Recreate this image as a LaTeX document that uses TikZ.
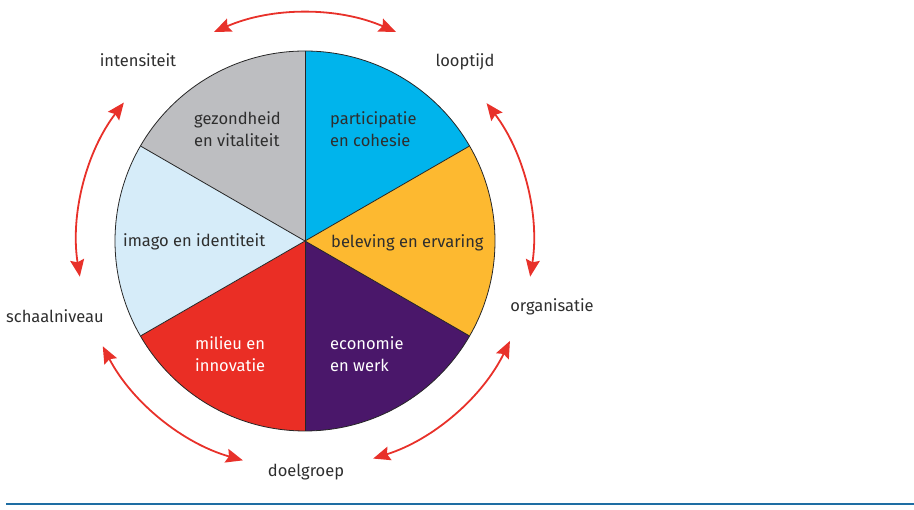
\documentclass[tikz,border=0pt]{standalone}
\usepackage{fontspec}
\setmainfont{Fira Sans}
\usetikzlibrary{arrows.meta}

\definecolor{segCyan}{HTML}{00B4EC}
\definecolor{segOrange}{HTML}{FDB930}
\definecolor{segPurple}{HTML}{4A176A}
\definecolor{segRed}{HTML}{EA2E25}
\definecolor{segLight}{HTML}{D6ECF9}
\definecolor{segGray}{HTML}{BDBEC1}
\definecolor{arrowRed}{HTML}{E8312A}
\definecolor{txt}{HTML}{2E2E2E}
\definecolor{rule}{HTML}{1E6DA3}

\tikzset{
  segtext/.style={anchor=base west, align=left, font=\fontsize{16.5}{22}\selectfont, text=txt, inner sep=0pt},
  segwhite/.style={segtext, text=white},
  outer/.style={anchor=base, font=\fontsize{16.5}{20}\selectfont, text=txt, inner sep=0pt},
  cycle arrow/.style={draw=arrowRed, line width=1.8pt,
    {Stealth[length=17pt,width=14pt,inset=2.5pt]}-{Stealth[length=17pt,width=14pt,inset=2.5pt]}},
  edge line/.style={draw=black!85, line width=0.8pt},
}

\begin{document}
\begin{tikzpicture}[x=1pt,y=1pt]
  \useasboundingbox (0,0) rectangle (914,510);
  \coordinate (C) at (305,269);
  \def\R{190}
  \def\Ra{228}

  % six equal sectors of the wheel
  \foreach \a/\col in {30/segCyan, -30/segOrange, -90/segPurple, -150/segRed, 150/segLight, 90/segGray}{
    \fill[\col] (C) -- ([shift={(\a:\R)}]C) arc[start angle=\a, end angle=\a+60, radius=\R] -- cycle;
  }
  \foreach \a in {90,30,-30,-90,-150,150}{
    \draw[edge line] (C) -- ([shift={(\a:\R)}]C);
  }
  \draw[edge line] (C) circle[radius=\R];

  % sector labels (base = baseline of the last line)
  \node[segtext] (gez) at (194,363) {gezondheid\\en vitaliteit};
  \node[segtext] (par) at (330,363) {participatie\\en cohesie};
  \node[segtext] (bel) at (331,262) {beleving en ervaring};
  \node[segtext] (ima) at (123,263) {imago en identiteit};
  \node[segwhite] (mil) at (195,138) {milieu en\\innovatie};
  \node[segwhite] (eco) at (330,138) {economie\\en werk};

  % dimensions around the wheel
  \node[outer] (int) at (138,443) {intensiteit};
  \node[outer] (loo) at (465,443) {looptijd};
  \node[outer] (org) at (552,198) {organisatie};
  \node[outer] (doe) at (306,33) {doelgroep};
  \node[outer] (sch) at (55,187) {schaalniveau};

  % arc ends between the dimension labels
  \coordinate (a1s) at ([shift={(113.5:\Ra)}]C);
  \coordinate (a2s) at ([shift={(37.2:\Ra)}]C);
  \coordinate (a3s) at ([shift={(-26:\Ra)}]C);
  \coordinate (a4s) at ([shift={(-105.8:\Ra)}]C);
  \coordinate (a5s) at ([shift={(189:\Ra)}]C);

  % double-headed arcs
  \draw[cycle arrow] (a1s) arc[start angle=113.5, end angle=66.5, radius=\Ra];
  \draw[cycle arrow] (a2s) arc[start angle=37.2, end angle=-9, radius=\Ra];
  \draw[cycle arrow] (a3s) arc[start angle=-26, end angle=-72.6, radius=\Ra];
  \draw[cycle arrow] (a4s) arc[start angle=-105.8, end angle=-152.5, radius=\Ra];
  \draw[cycle arrow] (a5s) arc[start angle=189, end angle=142.6, radius=\Ra];

  % rule at the foot
  \coordinate (r1) at (6,6);
  \coordinate (r2) at (914,6);
  \draw[rule, line width=1.6pt] (r1) -- (r2);
\end{tikzpicture}
\end{document}
